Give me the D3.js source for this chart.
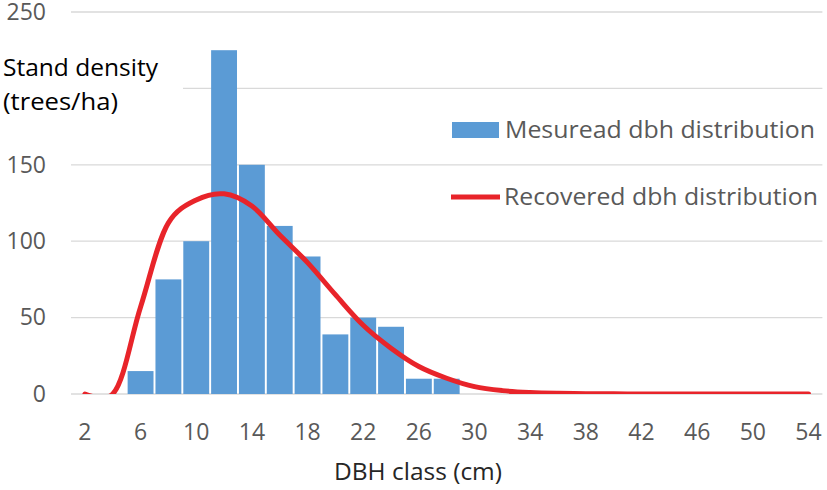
<!DOCTYPE html>
<html><head><meta charset="utf-8">
<script src="https://cdn.jsdelivr.net/npm/d3@7"></script>
<style>
html,body{margin:0;padding:0;background:#fff;}
svg{display:block;font-family:"Open Sans",sans-serif;}
</style></head>
<body><svg id="chart" width="827" height="490"></svg>
<script>
const categories = [2,4,6,8,10,12,14,16,18,20,22,24,26,28,30,32,34,36,38,40,42,44,46,48,50,52,54];
const measured   = [0,0,15,75,100,225,150,110,90,39,50,44,10,10,0,0,0,0,0,0,0,0,0,0,0,0,0];
const recovered  = [0,0,57,112,127,131,123,104,86,65,45,30,18,10.3,4.8,2.2,1.0,0.45,0.2,0.09,0.04,0.02,0.01,0.005,0.002,0.001,0];
const yTicks = [0,50,100,150,200,250];
const xTickLabels = [2,6,10,14,18,22,26,30,34,38,42,46,50,54];
const seriesNames = ["Mesuread dbh distribution","Recovered dbh distribution"];
const yTitle = ["Stand density","(trees/ha)"];
const xTitle = "DBH class (cm)";

const svg = d3.select("#chart");
const pLeft = 71, pRight = 822.4, pTop = 12, pBottom = 394;
const x = d3.scaleBand().domain(categories).range([pLeft,pRight]).paddingInner(0.07).paddingOuter(0.035);
const y = d3.scaleLinear().domain([0,250]).range([pBottom,pTop]);

// gridlines
svg.append("g").selectAll("line").data(yTicks).join("line")
  .attr("x1",pLeft).attr("x2",pRight)
  .attr("y1",d=>y(d)).attr("y2",d=>y(d))
  .attr("stroke","#d9d9d9").attr("stroke-width",1.3);

// y axis labels
const yAxis = d3.axisLeft(y).tickValues(yTicks).tickSize(0).tickPadding(0);
const gy = svg.append("g").attr("transform","translate(46,0)").call(yAxis);
gy.select(".domain").remove();
gy.selectAll("text").attr("font-size",23).attr("fill","#595959").attr("font-family","Open Sans");

// bars
svg.append("g").selectAll("rect").data(categories.map((c,i)=>({c,v:measured[i]})).filter(d=>d.v>0)).join("rect")
  .attr("x",d=>x(d.c)).attr("width",x.bandwidth())
  .attr("y",d=>y(d.v)).attr("height",d=>y(0)-y(d.v))
  .attr("fill","#5b9bd5");

// x axis
const xAxis = d3.axisBottom(x).tickValues(xTickLabels).tickSize(0).tickPadding(0);
const gx = svg.append("g").attr("transform",`translate(0,${pBottom})`).call(xAxis);
gx.select(".domain").remove();
gx.selectAll("text").attr("font-size",23).attr("fill","#595959").attr("font-family","Open Sans").attr("dy","1.98em");

// curve (clipped to plot area)
svg.append("clipPath").attr("id","clip").append("rect")
  .attr("x",0).attr("y",0).attr("width",827).attr("height",pBottom);
const line = d3.line()
  .x((d,i)=>x(categories[i])+x.bandwidth()/2)
  .y(d=>y(d))
  .curve(d3.curveCatmullRom.alpha(0.3));
svg.append("path").datum(recovered)
  .attr("clip-path","url(#clip)")
  .attr("d",line).attr("fill","none")
  .attr("stroke","#e8242a").attr("stroke-width",5).attr("stroke-linecap","round");

// y title with white backing
svg.append("rect").attr("x",0).attr("y",50).attr("width",183).attr("height",72).attr("fill","#fff");
svg.append("text").attr("x",3).attr("y",76).attr("font-size",23).attr("fill","#000")
  .attr("textLength",155).attr("lengthAdjust","spacingAndGlyphs").text(yTitle[0]);
svg.append("text").attr("x",3).attr("y",110).attr("font-size",23).attr("fill","#000")
  .attr("textLength",115).attr("lengthAdjust","spacingAndGlyphs").text(yTitle[1]);

// x title
svg.append("text").attr("x",418).attr("y",480).attr("text-anchor","middle")
  .attr("font-size",23).attr("fill","#262626")
  .attr("textLength",168).attr("lengthAdjust","spacingAndGlyphs").text(xTitle);

// legend
const lg = svg.append("g");
lg.append("rect").attr("x",452).attr("y",122).attr("width",47).attr("height",16).attr("fill","#5b9bd5");
lg.append("text").attr("x",505).attr("y",138).attr("font-size",23).attr("fill","#595959")
  .attr("textLength",310).attr("lengthAdjust","spacingAndGlyphs").text(seriesNames[0]);
lg.append("line").attr("x1",451).attr("x2",500).attr("y1",197).attr("y2",197)
  .attr("stroke","#e8242a").attr("stroke-width",5);
lg.append("text").attr("x",504).attr("y",205).attr("font-size",23).attr("fill","#595959")
  .attr("textLength",314).attr("lengthAdjust","spacingAndGlyphs").text(seriesNames[1]);
</script></body></html>
